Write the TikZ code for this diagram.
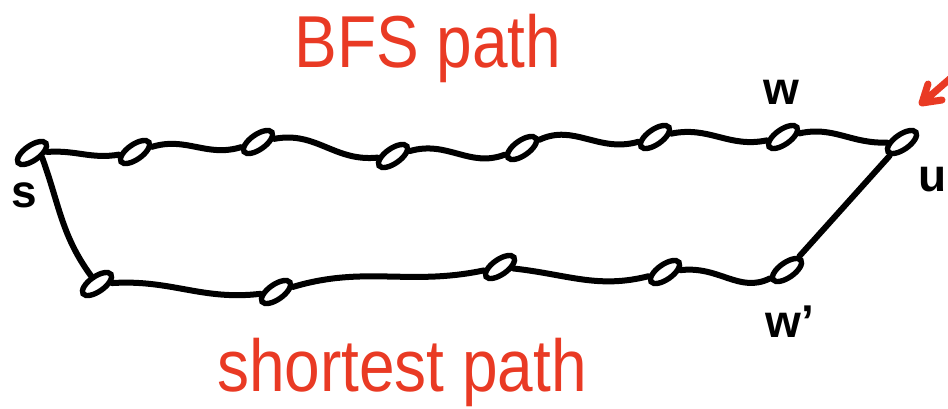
\documentclass[tikz,border=0pt]{standalone}
\usepackage{fontspec}
\setmainfont{Liberation Sans}
\usetikzlibrary{shapes.geometric,arrows.meta}
\definecolor{ink}{RGB}{0,0,0}
\definecolor{pen}{RGB}{233,58,36}
\tikzset{
  vtx/.style={draw=ink, line width=5.4pt, ellipse, minimum width=34pt,
              minimum height=15pt, inner sep=0pt, rotate=35},
  link/.style={draw=ink, line width=6pt, line cap=round},
  tag/.style={text=ink, font=\bfseries\fontsize{46}{46}\selectfont, inner sep=0pt},
  title/.style={text=pen, font=\fontsize{64}{64}\selectfont, inner sep=0pt,
                yscale=1.15}
}
\begin{document}
\begin{tikzpicture}[x=1pt, y=-1pt]
  \useasboundingbox (0,0) rectangle (948,408);
  \clip (0,0) rectangle (948,408);

  % upper chain (BFS path)
  \node[vtx] (n1) at (32,153) {};
  \node[vtx] (n2) at (135,152) {};
  \node[vtx] (n3) at (258,142) {};
  \node[vtx] (n4) at (393,156) {};
  \node[vtx] (n5) at (522,148) {};
  \node[vtx] (n6) at (655,137) {};
  \node[vtx] (n7) at (783,137) {};
  \node[vtx] (n8) at (902,142) {};

  % lower chain (shortest path)
  \node[vtx] (b1) at (97,284) {};
  \node[vtx] (b2) at (276,292) {};
  \node[vtx] (b3) at (500,267) {};
  \node[vtx] (b4) at (665,272) {};
  \node[vtx] (b5) at (787,270) {};

  \draw[link] (n1) to[out=-10, in=175] (n2);
  \draw[link] (n2) to[out=5, in=185] (n3);
  \draw[link] (n3) to[out=0, in=175] (n4);
  \draw[link] (n4) to[out=5, in=190] (n5);
  \draw[link] (n5) to[out=15, in=185] (n6);
  \draw[link] (n6) to[out=0, in=180] (n7);
  \draw[link] (n7) to[out=0, in=170] (n8);

  \draw[link] (n1.-60) to[out=-70, in=120] (b1);
  \draw[link] (b1) to[out=-5, in=178] (b2);
  \draw[link] (b2) to[out=10, in=185] (b3);
  \draw[link] (b3) to[out=-15, in=185] (b4);
  \draw[link] (b4) to[out=-5, in=195] (b5);
  \draw[link] (b5) -- (n8);

  % vertex names
  \node[tag] (ls) at (24,195) {s};
  \node[tag] (lw) at (781,92) {w};
  \node[tag] (lu) at (933,180) {u};
  \node[tag] (lw2) at (790,322) {w'};

  % captions
  \node[title] (top) at (428,48) {BFS path};
  \node[title] (bot) at (402,372) {shortest path};

  % pointer towards u
  \coordinate (tail) at (960,70);
  \coordinate (tip) at (922,103);
  \draw[draw=pen, line width=7pt, line cap=round, line join=round]
    (tail) -- (tip) (928,84) -- (tip) -- (942,100);
\end{tikzpicture}
\end{document}
